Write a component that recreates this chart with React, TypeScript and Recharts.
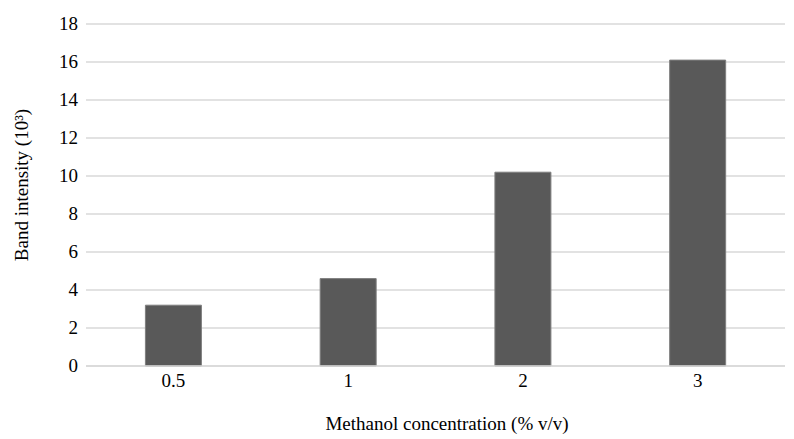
import { BarChart, Bar, XAxis, YAxis, CartesianGrid } from "recharts";

const concentrations = ["0.5", "1", "2", "3"];
const intensities = [3.2, 4.6, 10.2, 16.1];
const yTicks = [0, 2, 4, 6, 8, 10, 12, 14, 16, 18];

const data = concentrations.map((c, i) => ({ name: c, value: intensities[i] }));

const font = "Liberation Serif, DejaVu Serif, serif";

const XTick = (props: any) => {
    const { x, y, payload } = props;
    return (
        <text x={x} y={y + 21} textAnchor="middle" fontFamily={font} fontSize={19} fill="#000">
            {payload.value}
        </text>
    );
};

const YTick = (props: any) => {
    const { x, y, payload } = props;
    return (
        <text x={x} y={y + 6} textAnchor="end" fontFamily={font} fontSize={19} fill="#000">
            {payload.value}
        </text>
    );
};

export default function App() {
    return (
        <div style={{ position: "absolute", left: 0, top: 0, background: "#fff" }}>
            <BarChart
                width={794}
                height={439}
                data={data}
                margin={{ top: 24, right: 9, left: 0, bottom: 0 }}
                barCategoryGap="34%"
            >
                <CartesianGrid vertical={false} stroke="#d9d9d9" strokeWidth={1.5} />
                <XAxis
                    dataKey="name"
                    height={73}
                    axisLine={{ stroke: "#d9d9d9", strokeWidth: 1.5 }}
                    tickLine={false}
                    tick={<XTick />}
                    tickMargin={0}
                    tickSize={0}
                />
                <YAxis
                    width={86}
                    domain={[0, 18]}
                    ticks={yTicks}
                    axisLine={false}
                    tickLine={false}
                    tick={<YTick />}
                    tickSize={0}
                    tickMargin={8}
                    interval={0}
                />
                <Bar
                    dataKey="value"
                    fill="#595959"
                    stroke="#7f7f7f"
                    strokeWidth={1}
                    isAnimationActive={false}
                />
                <text x={447} y={430} textAnchor="middle" fontFamily={font} fontSize={19} fill="#000">
                    Methanol concentration (% v/v)
                </text>
                <text
                    x={28}
                    y={185}
                    textAnchor="middle"
                    fontFamily={font}
                    fontSize={19}
                    fill="#000"
                    transform="rotate(-90 28 185)"
                >
                    Band intensity (10³)
                </text>
            </BarChart>
        </div>
    );
}
